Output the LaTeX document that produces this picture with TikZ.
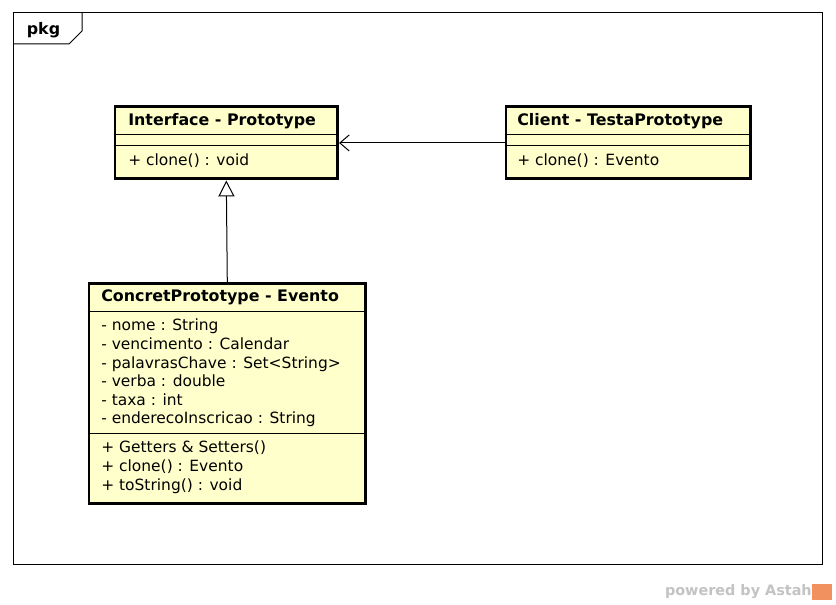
\documentclass[tikz,border=0pt]{standalone}
\usepackage{fontspec}
\setmainfont{DejaVu Sans}
\usepackage{xcolor}
\definecolor{classfill}{RGB}{255, 255, 204}
\definecolor{astahgray}{RGB}{195, 195, 195}
\definecolor{astahorange}{RGB}{240, 145, 95}
\usetikzlibrary{arrows.meta, positioning, calc}

\tikzset{
  classbox/.style={draw, line width=2.2pt, fill=classfill, anchor=north west, inner sep=0pt},
  classtitle/.style={anchor=base west, inner sep=0pt, font=\fontsize{11.9}{13}\selectfont\bfseries},
  member/.style={anchor=base west, inner sep=0pt},
  compline/.style={line width=0.75pt},
}

\begin{document}
\begin{tikzpicture}[x=0.75pt, y=-0.75pt, >=Stealth, font=\fontsize{11.6}{13}\selectfont]
    \fill[white] (0,0) rectangle (836,605);
    \useasboundingbox (0,0) rectangle (836,605);

    % package frame
    \draw[line width=0.75pt] (13,13) rectangle (822,565);
    \draw[line width=0.75pt] (13,44) -- (69,44) -- (82,31) -- (82,13);
    \node[font=\fontsize{11.9}{13}\selectfont\bfseries, inner sep=0pt, anchor=base] (pkg) at (43.5,35) {pkg};

    % classes
    \node[classbox, minimum width=167pt, minimum height=54pt] (iface) at (113.5,105.5) {};
    \draw[compline] ($(iface.north west)+(0,29)$) -- ($(iface.north east)+(0,29)$);
    \draw[compline] ($(iface.north west)+(0,40)$) -- ($(iface.north east)+(0,40)$);
    \node[classtitle] (ifacetitle) at ($(iface.north west)+(14.5,20.5)$) {Interface - Prototype};
    \node[member] (ifaceclone) at ($(iface.north west)+(14.5,60.5)$) {+ clone() : void};

    \node[classbox, minimum width=183.5pt, minimum height=54pt] (client) at (504.5,105.5) {};
    \draw[compline] ($(client.north west)+(0,29)$) -- ($(client.north east)+(0,29)$);
    \draw[compline] ($(client.north west)+(0,40)$) -- ($(client.north east)+(0,40)$);
    \node[classtitle] (clienttitle) at ($(client.north west)+(12.5,20.5)$) {Client - TestaPrototype};
    \node[member] (clientclone) at ($(client.north west)+(12.5,60.5)$) {+ clone() : Evento};

    \node[classbox, minimum width=207.5pt, minimum height=165pt] (evento) at (87.5,282.5) {};
    \draw[compline] ($(evento.north west)+(0,29)$) -- ($(evento.north east)+(0,29)$);
    \draw[compline] ($(evento.north west)+(0,151)$) -- ($(evento.north east)+(0,151)$);
    \node[classtitle] (eventotitle) at ($(evento.north west)+(13.5,19.5)$) {ConcretPrototype - Evento};
    \foreach \txt [count=\i from 0] in {- nome : String, - vencimento : Calendar,
        - palavrasChave : Set<String>, - verba : double, - taxa : int,
        - enderecoInscricao : String}
        \node[member] (attr\i) at ($(evento.north west)+(13.5,48.5+18.6*\i)$) {\txt};
    \foreach \txt [count=\i from 0] in {+ Getters \& Setters(), + clone() : Evento,
        + toString() : void}
        \node[member] (op\i) at ($(evento.north west)+(13.5,170.5+18.9*\i)$) {\txt};

    % relations
    \draw[line width=0.75pt, -{Triangle[open, length=12pt, width=12pt]}] (evento.north) -- (iface.south);
    \draw[line width=0.75pt, -{Straight Barb[length=7pt, width=12pt]}] (client.west) -- (iface.east);

    % watermark
    \node[anchor=east, inner sep=0pt, text=astahgray, font=\fontsize{10.8}{12}\selectfont\bfseries] (powered) at (812,592) {powered by Astah};
    \fill[astahorange] (812,584) rectangle (832,600);
\end{tikzpicture}
\end{document}
